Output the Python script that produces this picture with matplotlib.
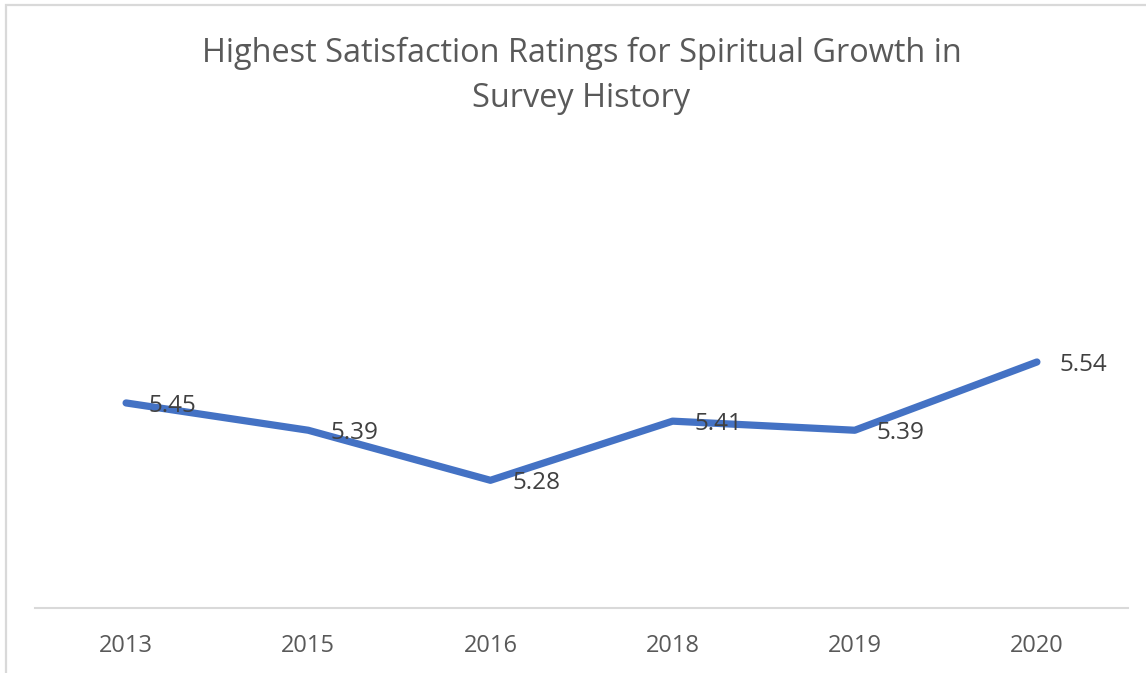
import matplotlib.pyplot as plt
from matplotlib.patches import Rectangle

# data
years = ['2013', '2015', '2016', '2018', '2019', '2020']
ratings = [5.45, 5.39, 5.28, 5.41, 5.39, 5.54]
title = 'Highest Satisfaction Ratings for Spiritual Growth in\nSurvey History'

plt.rcParams['font.family'] = ['Open Sans', 'DejaVu Sans']

W, H = 1146, 673
fig = plt.figure(figsize=(W / 100, H / 100), dpi=100)
fig.patch.set_facecolor('white')

# chart border (light grey, runs off the right and bottom)
fig.add_artist(Rectangle((5.5 / W, -0.1), 1.2, 1 - 5.5 / H + 0.1,
                         transform=fig.transFigure, fill=False,
                         edgecolor='#d9d9d9', lw=1.6))

left, right = 35 / W, 1128 / W
bottom, top = 1 - 607.7 / H, 1 - 152.7 / H
ax = fig.add_axes([left, bottom, right - left, top - bottom])

x = list(range(len(years)))
ax.plot(x, ratings, color='#4472C4', lw=5.2, solid_capstyle='round',
        solid_joinstyle='round')

for xi, v in zip(x, ratings):
    ax.annotate(f'{v:.2f}', (xi, v), xytext=(16, 0), textcoords='offset points',
                ha='left', va='center_baseline', fontsize=17.5, color='#404040')

ax.set_xlim(-0.5, len(years) - 0.5)
ax.set_ylim(5.0, 6.0)
ax.set_xticks(x)
ax.set_xticklabels(years, fontsize=17, color='#595959')
ax.tick_params(axis='x', length=0, pad=19)
ax.set_yticks([])
for s in ['top', 'right', 'left']:
    ax.spines[s].set_visible(False)
ax.spines['bottom'].set_color('#d9d9d9')
ax.spines['bottom'].set_linewidth(1.5)

fig.text((left + right) / 2, 1 - 76 / H, title, ha='center', va='center',
         fontsize=23.4, color='#595959', linespacing=1.48)

fig.savefig('out.png', dpi=100, facecolor='white')
